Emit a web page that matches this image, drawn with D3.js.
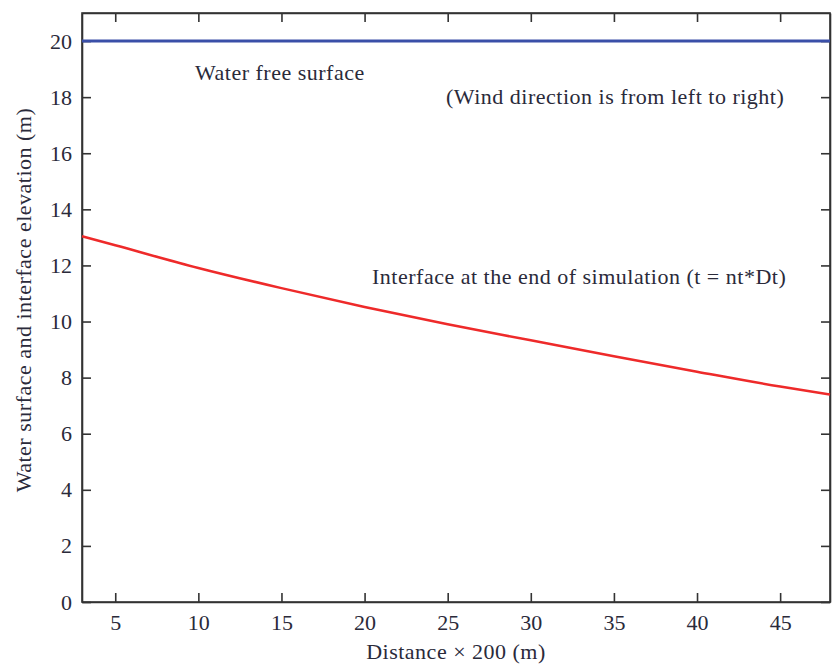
<!DOCTYPE html>
<html>
<head>
<meta charset="utf-8">
<script src="https://cdn.jsdelivr.net/npm/d3@7"></script>
<style>
  body { margin: 0; background: #fff; }
  svg text { font-family: "Liberation Serif", "DejaVu Serif", serif; fill: #2a2a3a; }
</style>
</head>
<body>
<div id="chart"></div>
<script>
// data
var distance = [3, 5, 10, 15, 20, 25, 30, 35, 40, 45, 48];
var interfaceElev = [13.04, 12.72, 11.91, 11.19, 10.52, 9.90, 9.33, 8.76, 8.21, 7.68, 7.40];
var freeSurface = [20, 20, 20, 20, 20, 20, 20, 20, 20, 20, 20];
var xTicks = [5, 10, 15, 20, 25, 30, 35, 40, 45];
var yTicks = [0, 2, 4, 6, 8, 10, 12, 14, 16, 18, 20];

var W = 837, H = 670;
var margin = { top: 13, right: 7, bottom: 68, left: 82 };
var width = W - margin.left - margin.right;
var height = H - margin.top - margin.bottom;
var fontSize = '22px';

var svg = d3.select('#chart').append('svg')
    .attr('width', W)
    .attr('height', H);

var chart = svg.append('g')
    .attr('transform', "translate(" + margin.left + "," + margin.top + ")");

var xScale = d3.scaleLinear().domain([3, 48]).range([0, width]);
var yScale = d3.scaleLinear().domain([0, 21]).range([height, 0]);

// axes, ticks pointing inward on all four sides
var tickLen = 9;
chart.append('g')
    .attr('class', 'axis axis-x')
    .attr('transform', "translate(0," + height + ")")
    .call(d3.axisBottom(xScale).tickValues(xTicks).tickSizeInner(-tickLen).tickSizeOuter(0).tickPadding(12));
chart.append('g')
    .attr('class', 'axis axis-x-top')
    .call(d3.axisTop(xScale).tickValues(xTicks).tickSizeInner(-tickLen).tickSizeOuter(0).tickFormat(''));
chart.append('g')
    .attr('class', 'axis axis-y')
    .call(d3.axisLeft(yScale).tickValues(yTicks).tickSizeInner(-tickLen).tickSizeOuter(0).tickPadding(10));
chart.append('g')
    .attr('class', 'axis axis-y-right')
    .attr('transform', "translate(" + width + ",0)")
    .call(d3.axisRight(yScale).tickValues(yTicks).tickSizeInner(-tickLen).tickSizeOuter(0).tickFormat(''));

chart.selectAll('.axis path, .axis line')
    .attr('stroke', '#333')
    .attr('stroke-width', 1.6);
chart.selectAll('.axis text')
    .style('font-size', fontSize)
    .style('fill', '#2a2a3a');

// frame
chart.append('rect')
    .attr('width', width)
    .attr('height', height)
    .attr('fill', 'none')
    .attr('stroke', '#333')
    .attr('stroke-width', 1.6);

// lines
var line = d3.line().curve(d3.curveMonotoneX);
chart.append('path')
    .datum(distance.map(function (d, i) { return [xScale(d), yScale(freeSurface[i])]; }))
    .attr('d', line)
    .attr('fill', 'none')
    .attr('stroke', '#3a4fa8')
    .attr('stroke-width', 3);
chart.append('path')
    .datum(distance.map(function (d, i) { return [xScale(d), yScale(interfaceElev[i])]; }))
    .attr('d', line)
    .attr('fill', 'none')
    .attr('stroke', '#ee2a2a')
    .attr('stroke-width', 2.5);

// annotations
function note(x, y, s) {
    chart.append('text').attr('x', xScale(x)).attr('y', yScale(y))
        .style('font-size', fontSize).style('letter-spacing', '0.5px').text(s);
}
note(9.8, 18.6, 'Water free surface');
note(24.9, 17.76, '(Wind direction is from left to right)');
note(20.45, 11.33, 'Interface at the end of simulation (t = nt*Dt)');

// axis titles
svg.append('text')
    .attr('x', margin.left + width / 2)
    .attr('y', 659)
    .attr('text-anchor', 'middle')
    .style('font-size', fontSize)
    .style('letter-spacing', '0.5px')
    .text('Distance \u00d7 200 (m)');
svg.append('text')
    .attr('transform', "translate(31,300) rotate(-90)")
    .attr('text-anchor', 'middle')
    .style('font-size', fontSize)
    .style('letter-spacing', '0.5px')
    .text('Water surface and interface elevation (m)');
</script>
</body>
</html>
